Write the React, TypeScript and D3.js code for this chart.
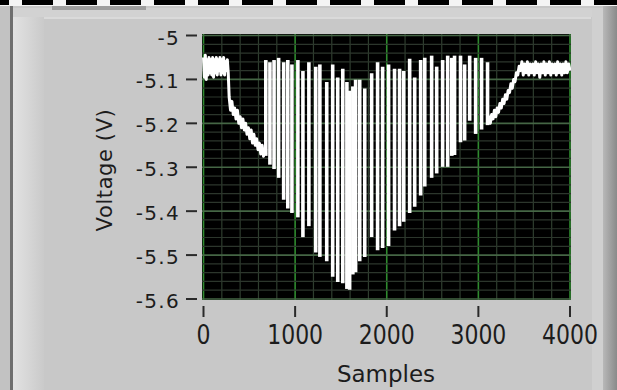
import * as d3 from 'd3'
import React from 'react'

// axis ticks
const xTicks = [0, 1000, 2000, 3000, 4000]
const xTickLabels = ['0', '1000', '2000', '3000', '4000']
const yTicks = [-5, -5.1, -5.2, -5.3, -5.4, -5.5, -5.6]
const yTickLabels = ['-5', '-5.1', '-5.2', '-5.3', '-5.4', '-5.5', '-5.6']

// flat start + slow descent before the bursts
const leadSamples = [0, 10, 20, 30, 40, 50, 60, 70, 80, 90, 100, 110, 120, 130, 140, 150, 160, 170, 180, 190, 200, 210, 220, 230, 240, 250, 260, 270,
  280, 295, 310, 325, 340, 355, 370, 385, 400, 415, 430, 445, 460, 475, 490, 505, 520, 535, 550, 565, 580, 595, 610, 625, 640, 655, 670, 680]
const leadVolts = [-5.05, -5.095, -5.045, -5.1, -5.055, -5.09, -5.05, -5.085, -5.055, -5.09, -5.05, -5.095, -5.055, -5.085, -5.05, -5.09, -5.055, -5.08, -5.05, -5.09, -5.055, -5.085, -5.05, -5.09, -5.06, -5.08, -5.055, -5.085,
  -5.14, -5.17, -5.15, -5.18, -5.165, -5.19, -5.17, -5.2, -5.185, -5.21, -5.19, -5.215, -5.2, -5.225, -5.21, -5.235, -5.215, -5.245, -5.225, -5.25, -5.235, -5.26, -5.245, -5.27, -5.25, -5.275, -5.26, -5.27]

// switching bursts: each one a vertical swing from top to bottom
const burstSamples = [680, 725, 770, 820, 875, 920, 965, 1030, 1085, 1150, 1225, 1270, 1345, 1410, 1465, 1520, 1565, 1595, 1630, 1660, 1705, 1760, 1835,
  1900, 1955, 2020, 2085, 2140, 2185, 2250, 2305, 2370, 2415, 2490, 2545, 2610, 2665, 2710, 2740, 2805, 2850, 2905, 2970, 3035, 3100]
const burstTops = [-5.06, -5.065, -5.06, -5.055, -5.065, -5.06, -5.07, -5.06, -5.085, -5.065, -5.075, -5.07, -5.11, -5.07, -5.1, -5.08, -5.11, -5.13, -5.12, -5.105, -5.105, -5.125, -5.09,
  -5.065, -5.075, -5.07, -5.08, -5.08, -5.085, -5.057, -5.1, -5.06, -5.055, -5.05, -5.075, -5.06, -5.05, -5.055, -5.05, -5.05, -5.07, -5.05, -5.055, -5.055, -5.065]
const burstBottoms = [-5.27, -5.29, -5.3, -5.32, -5.37, -5.39, -5.4, -5.41, -5.455, -5.43, -5.49, -5.5, -5.51, -5.545, -5.557, -5.56, -5.573, -5.575, -5.54, -5.535, -5.51, -5.5, -5.455,
  -5.485, -5.48, -5.475, -5.44, -5.43, -5.42, -5.4, -5.386, -5.36, -5.34, -5.32, -5.31, -5.295, -5.295, -5.27, -5.268, -5.239, -5.235, -5.19, -5.22, -5.21, -5.2]

// recovery ramp + flat end
const tailSamples = [3100, 3115, 3130, 3145, 3160, 3175, 3190, 3205, 3220, 3235, 3250, 3265, 3280, 3295, 3310, 3325, 3340, 3355, 3370, 3385, 3400, 3415, 3430, 3445, 3460,
  3475, 3490, 3505, 3520, 3535, 3550, 3565, 3580, 3595, 3610, 3625, 3640, 3655, 3670, 3685, 3700, 3715, 3730, 3745, 3760, 3775, 3790, 3805, 3820, 3835, 3850, 3865, 3880,
  3895, 3910, 3925, 3940, 3955, 3970, 3985, 4000]
const tailVolts = [-5.2, -5.185, -5.2, -5.18, -5.19, -5.17, -5.185, -5.165, -5.175, -5.155, -5.165, -5.145, -5.155, -5.135, -5.145, -5.125, -5.13, -5.11, -5.12, -5.1, -5.105, -5.085, -5.09, -5.07, -5.08,
  -5.06, -5.09, -5.065, -5.085, -5.06, -5.09, -5.065, -5.085, -5.065, -5.09, -5.06, -5.085, -5.065, -5.095, -5.065, -5.085, -5.06, -5.09, -5.065, -5.085, -5.06, -5.09, -5.065, -5.085, -5.065, -5.09, -5.06, -5.085,
  -5.065, -5.09, -5.065, -5.085, -5.06, -5.085, -5.065, -5.08]

const W = 617
const H = 390
const box = { left: 202, right: 571, top: 34, bottom: 300 }
const x = d3.scaleLinear().domain([0, 4000]).range([203.5, 570])
const y = d3.scaleLinear().domain([-5.6, -5]).range([299, 35.5])
const font = '"DejaVu Sans", Verdana, sans-serif'

type pt = [number, number]
const line = d3.line<pt>().x(d => x(d[0])).y(d => y(d[1]))
const lead: pt[] = leadSamples.map((s, i) => [s, leadVolts[i]])
const tail: pt[] = tailSamples.map((s, i) => [s, tailVolts[i]])
// vertical swings, joined to the lead and tail
const bursts: pt[][] = burstSamples.map((s, i) => [[s, burstTops[i]], [s, burstBottoms[i]]])

export default function App() {
  const minorX = x.ticks(20)
  const minorY = y.ticks(30)
  const dashes = d3.range(-22, W, 44)
  return (
    <svg width={W} height={H} style={{ position: 'absolute', left: 0, top: 0, display: 'block' }}>
      <defs>
        <linearGradient id="lband" x1="0" x2="1" y1="0" y2="0">
          <stop offset="0" stopColor="#e2e2e2" />
          <stop offset="1" stopColor="#cacaca" />
        </linearGradient>
        <linearGradient id="rband" x1="0" x2="1" y1="0" y2="0">
          <stop offset="0" stopColor="#b8b8b8" />
          <stop offset="1" stopColor="#8a8a8a" />
        </linearGradient>
        <clipPath id="plotclip">
          <rect x={box.left} y={box.top} width={box.right - box.left} height={box.bottom - box.top} />
        </clipPath>
      </defs>

      {/* panel + frame */}
      <rect width={W} height={H} fill="#c8c8c8" />
      <rect x={0} y={0} width={10} height={H} fill="#c2c2c2" />
      <rect x={10} y={6} width={3} height={H} fill="#6e6e6e" />
      <rect x={13} y={8} width={31} height={H} fill="url(#lband)" />
      <rect x={13} y={8} width={W - 13} height={9} fill="#d2d2d2" />
      <rect x={52} y={6} width={94} height={4} fill="#9e9e9e" />
      <rect x={44} y={17} width={W - 70} height={2} fill="#dadada" />
      <rect x={592} y={8} width={11} height={H} fill="#d0d0d0" />
      <rect x={603} y={6} width={14} height={H} fill="url(#rband)" />
      <rect x={0} y={0} width={W} height={6} fill="#f4f4f4" />
      {dashes.map(d => <rect key={d} x={d} y={0} width={31} height={5} fill="#000" />)}

      {/* plot area */}
      <rect x={box.left} y={box.top} width={box.right - box.left} height={box.bottom - box.top} fill="#000" />
      <g clipPath="url(#plotclip)">
        {minorX.map(t => (
          <line key={'mx' + t} x1={x(t)} x2={x(t)} y1={box.top} y2={box.bottom}
            stroke={t % 1000 === 0 ? '#2f8a2f' : '#2e3d2e'} strokeWidth={t % 1000 === 0 ? 1.6 : 1.2} />
        ))}
        {minorY.map((t, i) => (
          <line key={'my' + i} x1={box.left} x2={box.right} y1={y(t)} y2={y(t)}
            stroke={i % 5 === 0 ? '#456645' : '#2c362c'} strokeWidth={i % 5 === 0 ? 1.6 : 1.2} />
        ))}
        <g fill="none" stroke="#fff" strokeLinejoin="round">
          <path d={line(lead) || ''} strokeWidth={3} />
          <path d={line(tail) || ''} strokeWidth={3} />
          {bursts.map((b, i) => <path key={'b' + i} d={line(b) || ''} strokeWidth={3.6} strokeLinecap="square" />)}
        </g>
      </g>

      {/* y axis */}
      {yTicks.map((t, i) => (
        <g key={'yt' + i}>
          <line x1={186} x2={197} y1={y(t)} y2={y(t)} stroke="#2a2a2a" strokeWidth={2} />
          <text x={180} y={y(t) + 2} textAnchor="end" dominantBaseline="central" fontFamily={font}
            fontSize={20} letterSpacing={1.3} fill="#1c1c1c">{yTickLabels[i]}</text>
        </g>
      ))}
      <text transform={`translate(105,170) rotate(-90)`} textAnchor="middle" dominantBaseline="central"
        fontFamily={font} fontSize={21} letterSpacing={0.6} fill="#1c1c1c">Voltage (V)</text>

      {/* x axis */}
      {xTicks.map((t, i) => (
        <g key={'xt' + i}>
          <line x1={x(t)} x2={x(t)} y1={306} y2={317} stroke="#2a2a2a" strokeWidth={2} />
          <text transform={`translate(${x(t)},335) scale(1,1.2)`} textAnchor="middle" dominantBaseline="central"
            fontFamily={font} fontSize={22} fill="#1c1c1c">{xTickLabels[i]}</text>
        </g>
      ))}
      <text x={386} y={374} textAnchor="middle" dominantBaseline="central" fontFamily={font}
        fontSize={23} fill="#1c1c1c">Samples</text>
    </svg>
  )
}
